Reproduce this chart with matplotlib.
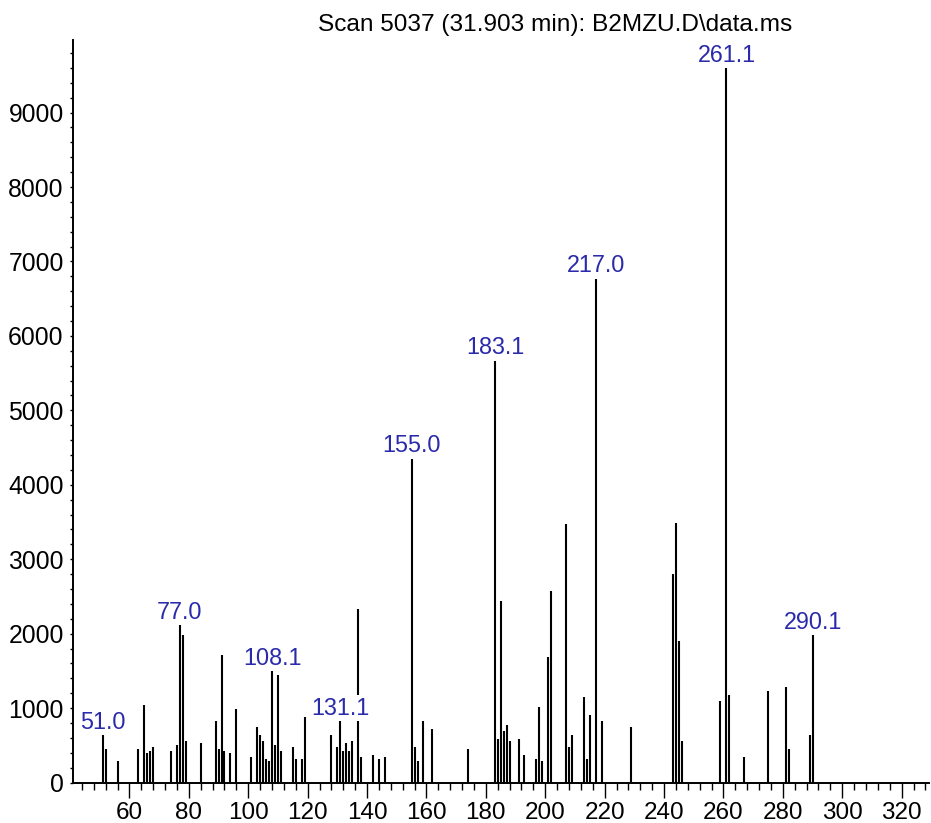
import matplotlib
matplotlib.use('Agg')
import matplotlib.pyplot as plt
from matplotlib.ticker import MultipleLocator

plt.rcParams['font.family'] = ['Liberation Sans', 'DejaVu Sans']

# 质谱峰 (m/z, 丰度)
mz = [51, 52, 56, 63, 65, 66, 67, 68, 74, 76, 77, 78, 79,
      84, 89, 90, 91, 92, 94, 96, 101, 103, 104, 105, 106, 107, 108, 109, 110, 111,
      115, 116, 118, 119, 128, 130, 131, 132, 133, 134, 135, 137, 138, 142, 144, 146,
      155, 156, 157, 159, 162, 174, 183, 184, 185, 186, 187, 188, 191, 193,
      197, 198, 199, 201, 202, 207, 208, 209, 213, 214, 215, 217, 219, 229,
      243, 244, 245, 246, 259, 261, 262, 267, 275, 281, 282, 289, 290]
abundance = [640, 450, 290, 450, 1040, 400, 420, 480, 425, 505, 2120, 1985, 560,
             530, 830, 455, 1715, 425, 400, 990, 345, 750, 640, 555, 320, 290, 1500, 505, 1450, 425,
             480, 320, 320, 885, 640, 480, 830, 425, 535, 425, 560, 2335, 345, 370, 320, 345,
             4355, 480, 290, 830, 720, 455, 5670, 590, 2440, 695, 775, 560, 590, 370,
             320, 1015, 290, 1690, 2575, 3470, 480, 640, 1150, 320, 910, 6775, 830, 750,
             2800, 3490, 1900, 560, 1100, 9600, 1180, 345, 1230, 1285, 455, 640, 1985]

# 标注的峰
label_mz = [51.0, 77.0, 108.1, 131.1, 155.0, 183.1, 217.0, 261.1, 290.1]

title = 'Scan 5037 (31.903 min): B2MZU.D\\data.ms'

fig = plt.figure(figsize=(9.31, 8.23), dpi=100)
ax = fig.add_axes([0.0781, 0.0492, 0.9197, 0.9022])

ax.vlines(mz, 0, abundance, colors='black', linewidth=1.5)

peak = dict(zip(mz, abundance))
for m in label_mz:
    h = peak[int(round(m))]
    ax.annotate('%.1f' % m, xy=(m, h), xytext=(0, 4.3), textcoords='offset points',
                ha='center', va='baseline', fontsize=16.8, color='#2a2aaa', zorder=5,
                bbox=dict(facecolor='white', edgecolor='none', pad=1.0))

ax.set_xlim(40.9, 329.2)
ax.set_ylim(0, 9975)

ax.spines['top'].set_visible(False)
ax.spines['right'].set_visible(False)
ax.spines['left'].set_linewidth(1.4)
ax.spines['bottom'].set_linewidth(1.4)

ax.xaxis.set_major_locator(MultipleLocator(20))
ax.xaxis.set_minor_locator(MultipleLocator(4))
ax.yaxis.set_major_locator(MultipleLocator(1000))
ax.yaxis.set_minor_locator(MultipleLocator(200))
ax.set_xticks(range(60, 321, 20))

ax.tick_params(axis='x', which='major', length=10.8, width=1.0, pad=3.5, labelsize=17.5)
ax.tick_params(axis='x', which='minor', length=5, width=1.0)
ax.tick_params(axis='y', which='both', length=2.5, width=1.0, pad=4, labelsize=17.8)

fig.text(555 / 931, 1 - 25 / 823, title, ha='center', va='center', fontsize=17.6)

plt.savefig('out.png', dpi=100)
